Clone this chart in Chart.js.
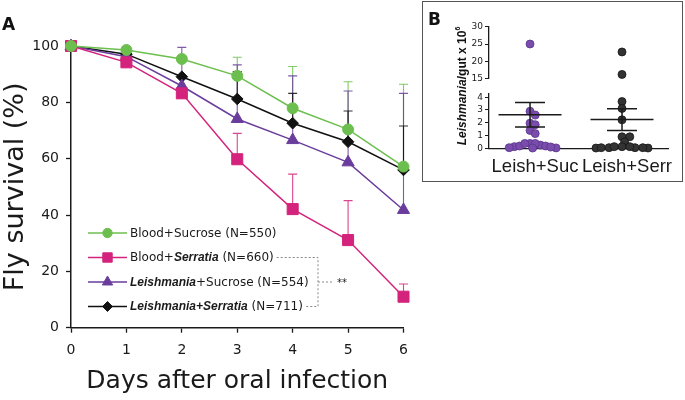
<!DOCTYPE html>
<html><head><meta charset="utf-8">
<script src="https://cdn.jsdelivr.net/npm/chart.js@4.4.1/dist/chart.umd.min.js"></script>
<style>
html,body{margin:0;padding:0;background:#fff;width:685px;height:400px;overflow:hidden;position:relative;font-family:"DejaVu Sans",sans-serif}
canvas{position:absolute;display:block}
#main{left:0;top:0}
#boxB{position:absolute;left:422px;top:1px;width:261px;height:181px;border:1.5px solid #555;box-sizing:border-box;background:#fff}
#bTop{left:424px;top:18px}
#bLow{left:424px;top:86px}
.panel{position:absolute;font:bold 17px/17px "DejaVu Sans";color:#111}
#bTitle{position:absolute;left:462px;top:86px;transform:translate(-50%,-50%) rotate(-90deg);white-space:nowrap;font:bold 12px/14px "Liberation Sans";color:#111}
#bTitle sup{font-size:7px;vertical-align:6px;line-height:0}
</style></head>
<body>
<canvas id="main" width="685" height="400"></canvas>
<div class="panel" style="left:2px;top:16px">A</div>
<div id="boxB"></div>
<canvas id="bTop" width="257" height="68"></canvas>
<canvas id="bLow" width="257" height="94"></canvas>
<div class="panel" style="left:428px;top:11px">B</div>
<div id="bTitle"><i>Leishmania</i>/gut x 10<sup>6</sup></div>
<script>
// ---------- Panel A data ----------
const days = [0, 1, 2, 3, 4, 5, 6];
const yTicks = [0, 20, 40, 60, 80, 100];
const bloodSucrose      = [100, 98.6, 95.4, 89.4, 77.9, 70.4, 57.2];
const bloodSerratia     = [100, 94.2, 83.2, 59.8, 42.1, 31.1, 11.0];
const leishSucrose      = [100, 96.2, 85.8, 74.1, 66.6, 58.7, 41.8];
const leishSerratia     = [100, 97.1, 89.1, 81.2, 72.6, 66.0, 56.0];
const bloodSucroseErr   = [0, 0, 0, 6.6, 14.8, 16.9, 29.2];
const bloodSerratiaErr  = [0, 0, 0, 9.2, 12.4, 14.0, 4.5];
const leishSucroseErr   = [0, 0, 13.7, 19.2, 22.8, 25.3, 41.4];
const leishSerratiaErr  = [0, 0, 0, 9.7, 10.6, 10.9, 15.6];

// ---------- Panel B data ----------
const bCategories = ['Leish+Suc', 'Leish+Serr'];
const bLowTicks = [0, 1, 2, 3, 4];
const bHighTicks = [15, 20, 25, 30];
const leishSucParasites  = [25, 2.9, 2.6, 1.97, 1.85, 1.4, 1.15, 0.38, 0.13, 0.25, 0.18, 0.18, 0.38, 0.05, 0.38, 0.02, 0.03, 0.1];
const leishSerrParasites = [22.7, 16.2, 3.66, 3.12, 2.23, 0.9, 0.9, 0.5, 0.13, 0.05, 0.05, 0.02, 0.02, 0.05, 0.13, 0.05, 0.13];
const bMeans = [2.62, 2.25];
const bSem   = [0.96, 0.85];

const FONT = 'DejaVu Sans';
const INK = '#1a1a1a';

function series(vals){ return days.map((d,i)=>({x:d, y:vals[i]})); }

const mainSets = [
  {label:'Blood+Sucrose (N=550)', data:series(bloodSucrose), err:bloodSucroseErr, color:'#6cbf4e', style:'circle', r:5.5},
  {label:'Blood+Serratia (N=660)', data:series(bloodSerratia), err:bloodSerratiaErr, color:'#d4237c', style:'rect', r:7.8},
  {label:'Leishmania+Sucrose (N=554)', data:series(leishSucrose), err:leishSucroseErr, color:'#6a3d9c', style:'triangle', r:7},
  {label:'Leishmania+Serratia (N=711)', data:series(leishSerratia), err:leishSerratiaErr, color:'#111111', style:'rectRot', r:5.8}
];

const legendRows = [
  [['Blood+Sucrose (N=550)','n']],
  [['Blood+','n'],['Serratia','bi'],[' (N=660)','n']],
  [['Leishmania','bi'],['+Sucrose (N=554)','n']],
  [['Leishmania+Serratia','bi'],[' (N=711)','n']]
];

const errorBarPlugin = {
  id:'errorBars',
  beforeDatasetsDraw(chart){
    const {ctx, scales:{x, y}} = chart;
    chart.data.datasets.forEach(ds=>{
      ds.errUp.forEach((e,i)=>{
        if(!e) return;
        const p = ds.data[i];
        const px = x.getPixelForValue(p.x);
        const p0 = y.getPixelForValue(p.y), p1 = y.getPixelForValue(p.y + e);
        ctx.save();
        ctx.strokeStyle = ds.borderColor; ctx.lineWidth = 1.1; ctx.globalAlpha = 0.85;
        ctx.beginPath();
        ctx.moveTo(px, p0); ctx.lineTo(px, p1);
        ctx.moveTo(px-4.5, p1); ctx.lineTo(px+4.5, p1);
        ctx.stroke();
        ctx.restore();
      });
    });
  }
};

const legendPlugin = {
  id:'customLegend',
  afterDraw(chart){
    const ctx = chart.ctx;
    const rowsY = [233, 257.5, 282, 306.5];
    const ends = [];
    ctx.save();
    mainSets.forEach((s,i)=>{
      const y = rowsY[i];
      ctx.strokeStyle = s.color; ctx.lineWidth = 1.5;
      ctx.beginPath(); ctx.moveTo(88, y); ctx.lineTo(127, y); ctx.stroke();
      ctx.fillStyle = s.color; ctx.strokeStyle = s.color; ctx.lineWidth = 1;
      Chart.helpers.drawPoint(ctx, {pointStyle:s.style, radius:s.r*0.85, rotation:0, borderWidth:1}, 107.5, y);
      let x = 130;
      ctx.fillStyle = INK; ctx.textBaseline = 'middle'; ctx.textAlign = 'left';
      legendRows[i].forEach(([t, st])=>{
        ctx.font = st === 'bi' ? 'italic bold 12px "Liberation Sans"' : '12px "DejaVu Sans"';
        ctx.fillText(t, x, y + 0.5);
        x += ctx.measureText(t).width;
      });
      ends.push(x);
    });
    // significance bracket between rows 2 and 4
    const bx = 318;
    ctx.strokeStyle = '#8a8a8a'; ctx.lineWidth = 1; ctx.setLineDash([2,2]);
    ctx.beginPath();
    ctx.moveTo(ends[1] + 3, rowsY[1]); ctx.lineTo(bx, rowsY[1]);
    ctx.lineTo(bx, rowsY[3]);
    ctx.lineTo(ends[3] + 3, rowsY[3]);
    ctx.moveTo(bx, rowsY[2]); ctx.lineTo(bx + 15, rowsY[2]);
    ctx.stroke();
    ctx.setLineDash([]);
    ctx.fillStyle = INK; ctx.font = '10px "DejaVu Sans"';
    ctx.fillText('**', bx + 19, rowsY[2] + 1);
    ctx.restore();
  }
};

new Chart(document.getElementById('main'), {
  type:'line',
  data:{datasets: mainSets.map(s=>({
    label:s.label, data:s.data, errUp:s.err,
    borderColor:s.color, backgroundColor:s.color,
    pointBackgroundColor:s.color, pointBorderColor:s.color,
    pointStyle:s.style, pointRadius:s.r, pointBorderWidth:1,
    borderWidth:1.5, tension:0, clip:false
  }))},
  options:{
    responsive:false, animation:false, devicePixelRatio:1,
    layout:{padding:{left:0, right:281.5, top:46, bottom:0}},
    plugins:{legend:{display:false}, tooltip:{enabled:false}},
    scales:{
      x:{type:'linear', min:0, max:6,
        afterBuildTicks(s){ s.ticks = days.map(v=>({value:v})); },
        ticks:{font:{family:FONT, size:14}, color:INK, padding:9, autoSkip:false},
        grid:{drawOnChartArea:false, tickLength:5, color:INK, tickWidth:1.3},
        border:{color:INK, width:1.5},
        title:{display:true, text:'Days after oral infection', font:{family:FONT, size:25}, color:INK, padding:{top:0, bottom:3.6}},
        afterFit(s){ s.height = 72.3; }
      },
      y:{min:0, max:100,
        afterBuildTicks(s){ s.ticks = yTicks.map(v=>({value:v})); },
        ticks:{font:{family:FONT, size:14}, color:INK, padding:7, autoSkip:false},
        grid:{drawOnChartArea:false, tickLength:5, color:INK, tickWidth:1.3},
        border:{color:INK, width:1.5},
        title:{display:true, text:'Fly survival (%)', font:{family:FONT, size:27}, color:INK, padding:{top:0, bottom:0}},
        afterFit(s){ s.width = 71; }
      }
    }
  },
  plugins:[errorBarPlugin, legendPlugin]
});

// ---------- Panel B ----------
const bStyles = [
  {fill:'#7a4dad', border:'#58338c'},
  {fill:'#333333', border:'#151515'}
];
function bSets(filterFn){
  return [leishSucParasites, leishSerrParasites].map((vals,g)=>({
    group:g+1,
    data: vals.filter(filterFn).map(v=>({x:g+1, y:v})),
    pointRadius:4, pointBorderWidth:0.8,
    pointBackgroundColor:bStyles[g].fill, pointBorderColor:bStyles[g].border,
    showLine:false, clip:false
  }));
}
const bXScale = (show)=>({
  type:'linear', min:0.554, max:2.5, display:show,
  afterBuildTicks(s){ s.ticks = bCategories.map((c,i)=>({value:i+1})); },
  ticks:{callback:(v)=>bCategories[Math.round(v)-1] || '', font:{family:'Liberation Sans', size:18.5}, color:INK, padding:8, maxRotation:0, autoSkip:false, labelOffset:5},
  grid:{display:false, drawTicks:false},
  border:{display:true, color:INK, width:1.3},
  afterFit(s){ s.height = show ? 31.7 : 0; }
});
const bYScale = (min, max, ticks)=>({
  min, max,
  afterBuildTicks(s){ s.ticks = ticks.map(v=>({value:v})); },
  ticks:{font:{family:FONT, size:9}, color:INK, padding:2, autoSkip:false},
  grid:{drawOnChartArea:false, tickLength:4, color:INK, tickWidth:1},
  border:{color:INK, width:1.3},
  afterFit(s){ s.width = 65; }
});

function swarm(chart){
  const xs = chart.scales.x, ys = chart.scales.y;
  const step = 2.6, minD = 5.2;
  chart.data.datasets.forEach(ds=>{
    const placed = [];
    const order = ds.data.map((p,i)=>i).sort((a,b)=>ds.data[b].y - ds.data[a].y);
    const cx = xs.getPixelForValue(ds.group);
    order.forEach(i=>{
      const p = ds.data[i];
      const py = ys.getPixelForValue(p.y);
      for(let k=0;k<60;k++){
        const off = (k%2 ? 1 : -1) * Math.ceil(k/2) * step;
        const px = cx + off;
        if(placed.every(q=>Math.hypot(q[0]-px, q[1]-py) >= minD)){
          placed.push([px,py]); p.x = xs.getValueForPixel(px); break;
        }
      }
    });
  });
  chart.update('none');
}

const bTop = new Chart(document.getElementById('bTop'), {
  type:'scatter',
  data:{datasets:bSets(v=>v>=15)},
  options:{
    responsive:false, animation:false, devicePixelRatio:1,
    layout:{padding:{left:0, right:13, top:8.7, bottom:4.3}},
    plugins:{legend:{display:false}, tooltip:{enabled:false}},
    scales:{x:bXScale(false), y:bYScale(15, 30, bHighTicks)}
  }
});

const meanSemPlugin = {
  id:'meanSem',
  afterDatasetsDraw(chart){
    const {ctx, scales:{x, y}} = chart;
    ctx.save();
    ctx.strokeStyle = INK; ctx.lineWidth = 1.5;
    bMeans.forEach((m,i)=>{
      const cx = x.getPixelForValue(i+1);
      const pm = y.getPixelForValue(m), pu = y.getPixelForValue(m + bSem[i]), pl = y.getPixelForValue(m - bSem[i]);
      ctx.beginPath();
      ctx.moveTo(cx-31.5, pm); ctx.lineTo(cx+31.5, pm);
      ctx.moveTo(cx-15, pu); ctx.lineTo(cx+15, pu);
      ctx.moveTo(cx-15, pl); ctx.lineTo(cx+15, pl);
      ctx.moveTo(cx, pu); ctx.lineTo(cx, pl);
      ctx.stroke();
    });
    ctx.restore();
  }
};

const bLow = new Chart(document.getElementById('bLow'), {
  type:'scatter',
  data:{datasets:bSets(v=>v<15)},
  options:{
    responsive:false, animation:false, devicePixelRatio:1,
    layout:{padding:{left:0, right:13, top:6.3, bottom:0}},
    plugins:{legend:{display:false}, tooltip:{enabled:false}},
    scales:{x:bXScale(true), y:bYScale(0, 4.3, bLowTicks)}
  },
  plugins:[meanSemPlugin]
});
swarm(bLow);
swarm(bTop);
</script>
</body></html>
